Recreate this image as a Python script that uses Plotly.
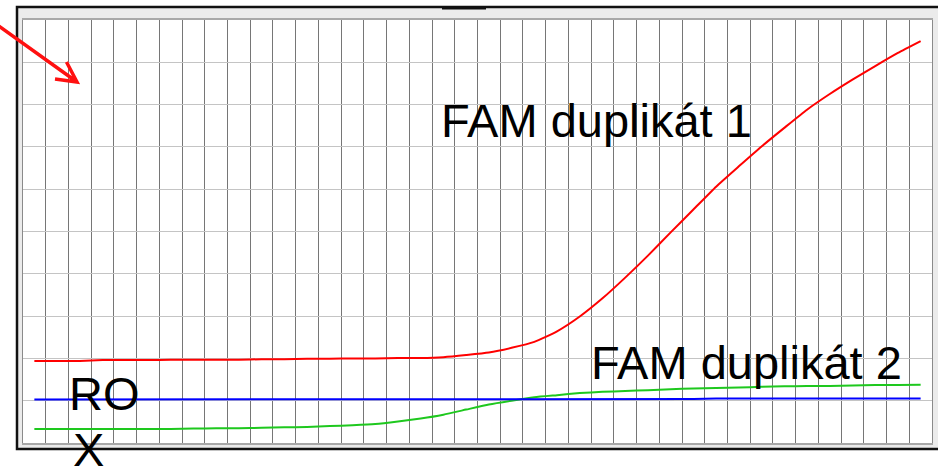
import plotly.graph_objects as go

# qPCR amplification curves, 40 cycles
cycles = list(range(1, 41))

fam_dup1 = [1.94, 1.94, 1.94, 1.96, 1.96, 1.96, 1.97, 1.97, 1.97, 1.97,
            1.98, 1.98, 1.99, 1.99, 2.00, 2.00, 2.01, 2.01, 2.03, 2.08,
            2.14, 2.25, 2.39, 2.64, 2.99, 3.42, 3.91, 4.43, 4.98, 5.52,
            6.06, 6.54, 7.01, 7.45, 7.88, 8.25, 8.59, 8.91, 9.22, 9.50]

fam_dup2 = [0.33, 0.33, 0.33, 0.33, 0.33, 0.33, 0.33, 0.34, 0.35, 0.35,
            0.36, 0.37, 0.38, 0.40, 0.42, 0.45, 0.51, 0.58, 0.67, 0.79,
            0.91, 1.00, 1.08, 1.13, 1.18, 1.21, 1.23, 1.25, 1.27, 1.29,
            1.30, 1.31, 1.33, 1.34, 1.345, 1.35, 1.36, 1.37, 1.37, 1.38]

threshold = [1.03, 1.03, 1.03, 1.03, 1.03, 1.03, 1.03, 1.03, 1.03, 1.03,
             1.03, 1.03, 1.03, 1.03, 1.04, 1.04, 1.04, 1.04, 1.04, 1.04,
             1.04, 1.04, 1.04, 1.04, 1.04, 1.04, 1.04, 1.04, 1.04, 1.04,
             1.05, 1.05, 1.05, 1.05, 1.05, 1.05, 1.05, 1.05, 1.05, 1.05]

W, H = 938, 466
L, R, T, B = 23, 6, 20, 23


def px(x, y):
    """pixel position -> paper coords"""
    return (x - L) / (W - L - R), (H - B - y) / (H - T - B)


fig = go.Figure()

curve = dict(width=2, shape='spline', smoothing=0.5)
fig.add_trace(go.Scatter(x=cycles, y=fam_dup1, mode='lines',
                         line=dict(color='#ff0000', **curve), hoverinfo='skip'))
fig.add_trace(go.Scatter(x=cycles, y=fam_dup2, mode='lines',
                         line=dict(color='#1ec81e', **curve), hoverinfo='skip'))
fig.add_trace(go.Scatter(x=cycles, y=threshold, mode='lines',
                         line=dict(color='#0000ff', width=2), hoverinfo='skip'))

# grey window frame around the plot
fx0, fy0 = px(17, 449)
fx1, fy1 = px(948, 7)
fig.add_shape(type='rect', xref='paper', yref='paper', x0=fx0, y0=fy0, x1=fx1, y1=fy1,
              fillcolor='#ebebeb', line=dict(color='#111111', width=2.5), layer='below')
fig.add_shape(type='rect', xref='paper', yref='paper', x0=0, y0=0, x1=1, y1=1,
              fillcolor='white', line=dict(width=0), layer='below')
bx0, by0 = px(442, 9.5)
bx1, by1 = px(486, 6)
fig.add_shape(type='rect', xref='paper', yref='paper', x0=bx0, y0=by0, x1=bx1, y1=by1,
              fillcolor='#111111', line=dict(width=0), layer='above')

# red pointer arrow in the top-left corner
tx, ty = px(-5, 23.4)
hx, hy = px(77, 82)
a1x, a1y = px(66.5, 62)
a2x, a2y = px(55, 79)
fig.add_shape(type='path', xref='paper', yref='paper',
              path=f'M {tx},{ty} L {hx},{hy} M {a1x},{a1y} L {hx},{hy} L {a2x},{a2y}',
              line=dict(color='#ff1010', width=3.5), layer='above')

font = dict(family='Liberation Sans, Arial, sans-serif', size=47, color='black')
labels = [
    ('FAM duplikát 1', 18.82, 7.62),
    ('FAM duplikát 2', 25.42, 1.91),
    ('RO', 2.45, 1.18),
]
for text, x, y in labels:
    fig.add_annotation(x=x, y=y, text=text, showarrow=False, xanchor='left',
                       yanchor='middle', font=font)

# second line of "ROX" sits below the plot area, so place it in paper coords
_, xy = px(0, 450)
fig.add_annotation(x=2.6, y=xy, yref='paper', text='X', showarrow=False,
                   xanchor='left', yanchor='middle', font=font)

fig.update_layout(
    width=W, height=H,
    margin=dict(l=L, r=R, t=T, b=B),
    paper_bgcolor='white',
    plot_bgcolor='white',
    showlegend=False,
    xaxis=dict(range=[0.5, 40.5], tick0=0.5, dtick=1, showticklabels=False,
               showgrid=True, gridcolor='#767676', gridwidth=1, zeroline=False,
               showline=True, mirror=True, linecolor='#a8a8a8', linewidth=1.5,
               ticks=''),
    yaxis=dict(range=[0, 10], dtick=1, showticklabels=False,
               showgrid=True, gridcolor='#c4c4c4', gridwidth=1, zeroline=False,
               showline=True, mirror=True, linecolor='#8a8a8a', linewidth=1,
               ticks=''),
)

fig.write_html("out.html", config={'displayModeBar': False},
               post_script="document.body.style.margin='0px';")
